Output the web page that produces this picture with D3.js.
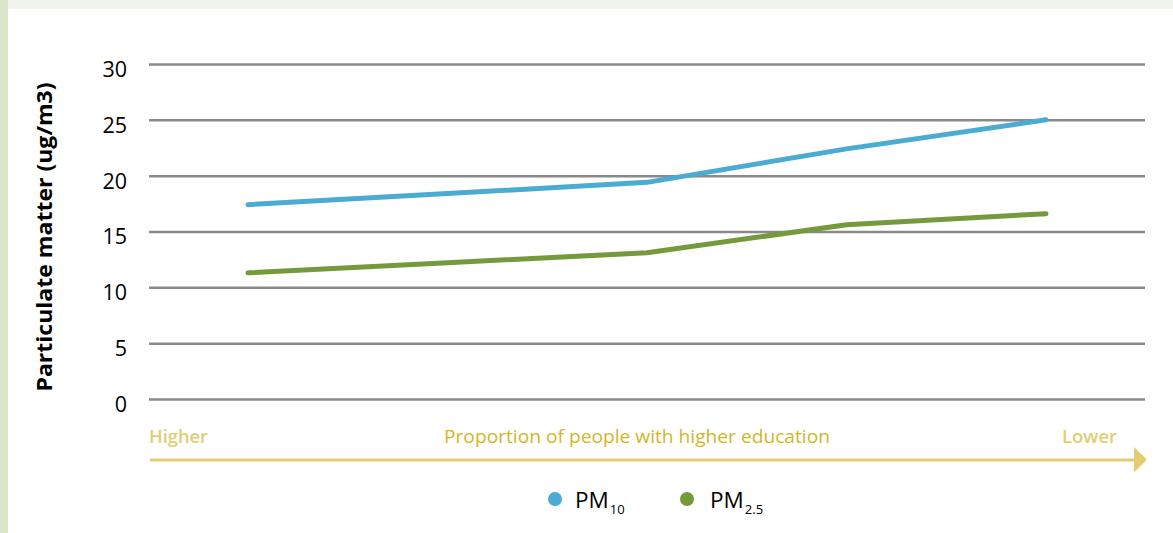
<!DOCTYPE html>
<html><head><meta charset="utf-8">
<script src="https://cdn.jsdelivr.net/npm/d3@7"></script>
<style>body{margin:0;background:#fff;}svg{display:block;font-family:"Open Sans",sans-serif;}</style>
</head><body><svg id="c" width="1173" height="533"></svg>
<script>
const categories = [1, 2, 3, 4, 5];
const pm10 = [17.4, 18.4, 19.4, 22.4, 25.0];
const pm25 = [11.3, 12.2, 13.1, 15.6, 16.6];
const yTicks = [0, 5, 10, 15, 20, 25, 30];
const seriesNames = ["PM10", "PM2.5"];

const svg = d3.select("#c");
svg.append("rect").attr("x",0).attr("y",0).attr("width",1173).attr("height",9).attr("fill","#f1f4ec");
svg.append("rect").attr("x",0).attr("y",0).attr("width",8).attr("height",533).attr("fill","#dce5cc");

const x = d3.scalePoint().domain(categories).range([248, 1046]);
const y = d3.scaleLinear().domain([0, 30]).range([399, 64]);

const yAxis = svg.append("g").attr("transform","translate(149,0)")
  .call(d3.axisLeft(y).tickValues(yTicks).tickSize(-996).tickPadding(22));
yAxis.select(".domain").remove();
yAxis.selectAll(".tick line").attr("stroke","#8a8a8a").attr("stroke-width",2.5);
yAxis.selectAll(".tick text").attr("fill","#000").attr("font-size",21.5).attr("font-family","Open Sans").attr("dy","0.58em");

svg.append("text").attr("transform","translate(52,237) rotate(-90)").attr("text-anchor","middle")
  .attr("font-size",21).attr("font-weight","bold").attr("fill","#000")
  .attr("textLength",309).attr("lengthAdjust","spacingAndGlyphs").text("Particulate matter (ug/m3)");

const line = d3.line().x((d,i)=>x(categories[i])).y(d=>y(d));
svg.append("path").datum(pm25).attr("d",line).attr("fill","none").attr("stroke","#749a3c").attr("stroke-width",5).attr("stroke-linecap","round");
svg.append("path").datum(pm10).attr("d",line).attr("fill","none").attr("stroke","#4aacd2").attr("stroke-width",5).attr("stroke-linecap","round");

// x axis direction annotation
svg.append("text").attr("x",149).attr("y",443).attr("font-size",18).attr("font-weight",600).attr("fill","#e0ce74")
  .attr("textLength",59).attr("lengthAdjust","spacingAndGlyphs").text("Higher");
svg.append("text").attr("x",1117).attr("y",443).attr("text-anchor","end").attr("font-size",18).attr("font-weight",600).attr("fill","#e0ce74")
  .attr("textLength",55).attr("lengthAdjust","spacingAndGlyphs").text("Lower");
svg.append("text").attr("x",637).attr("y",443).attr("text-anchor","middle").attr("font-size",18.5).attr("fill","#d2b629")
  .attr("textLength",386).attr("lengthAdjust","spacingAndGlyphs").text("Proportion of people with higher education");
svg.append("line").attr("x1",150).attr("x2",1136).attr("y1",460).attr("y2",460).attr("stroke","#e2cd72").attr("stroke-width",3);
svg.append("path").attr("d","M1134,447 L1147,459.8 L1134,472.5 Z").attr("fill","#e2cd72");

// legend
const legend = [{name:"PM", sub:"10", color:"#4aacd2", cx:555, tx:575}, {name:"PM", sub:"2.5", color:"#749a3c", cx:687, tx:710}];
legend.forEach(l=>{
  svg.append("circle").attr("cx",l.cx).attr("cy",499).attr("r",7).attr("fill",l.color);
  const t = svg.append("text").attr("x",l.tx).attr("y",508).attr("font-size",22.5).attr("fill","#000");
  t.append("tspan").text(l.name);
  t.append("tspan").attr("font-size",13).attr("dx",1).attr("dy",6).text(l.sub);
});
</script></body></html>
